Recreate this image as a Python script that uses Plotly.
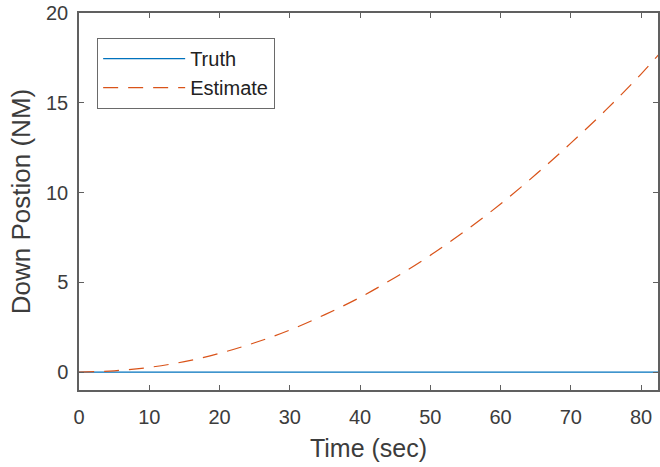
import plotly.graph_objects as go

# Down-channel position: true trajectory vs. navigation filter estimate
time_sec = [0, 5, 10, 15, 20, 25, 30, 35, 40, 45, 50, 55, 60, 65, 70, 75, 80, 85]
truth_nm = [0, 0, 0, 0, 0, 0, 0, 0, 0, 0, 0, 0, 0, 0, 0, 0, 0, 0]
estimate_nm = [0, 0.07, 0.26, 0.58, 1.04, 1.63, 2.34, 3.2, 4.16, 5.27,
               6.5, 7.87, 9.36, 11.0, 12.75, 14.6, 16.6, 18.8]

x_ticks = [0, 10, 20, 30, 40, 50, 60, 70, 80]
y_ticks = [0, 5, 10, 15, 20]

AXIS = "#606060"
TEXT = "#3c3c3c"
FONT = "Liberation Sans, Arial, sans-serif"

fig = go.Figure()
fig.add_trace(go.Scatter(
    x=time_sec, y=truth_nm, mode="lines", name="Truth",
    line=dict(color="#0072BD", width=1.2),
))
fig.add_trace(go.Scatter(
    x=time_sec, y=estimate_nm, mode="lines", name="Estimate",
    line=dict(color="#D95319", width=1.2, dash="15px,10px", shape="spline"),
))

axis_common = dict(
    showgrid=False, zeroline=False, showline=True, linecolor=AXIS, linewidth=1.5,
    mirror="ticks", ticks="inside", ticklen=5, tickwidth=1.2, tickcolor=AXIS,
    tickfont=dict(family=FONT, size=20, color=TEXT),
)

fig.update_xaxes(
    range=[0, 82.41], tickvals=x_ticks, ticklabelstandoff=8,
    title=dict(text="Time (sec)", font=dict(family=FONT, size=25, color=TEXT), standoff=13),
    **axis_common,
)
fig.update_yaxes(
    range=[-1, 20], tickvals=y_ticks, ticklabelstandoff=5,
    title=dict(text="Down Postion (NM)", font=dict(family=FONT, size=26, color=TEXT), standoff=8),
    **axis_common,
)

fig.update_layout(
    width=660, height=467,
    margin=dict(l=79, r=0, t=13, b=77),
    paper_bgcolor="white", plot_bgcolor="white",
    showlegend=True,
    legend=dict(
        x=0.031, y=0.934, xanchor="left", yanchor="top",
        bgcolor="white", bordercolor="#6a6a6a", borderwidth=1.2,
        font=dict(family=FONT, size=20, color="#222222"),
        itemwidth=82,
    ),
)

fig.write_html("out.html")
